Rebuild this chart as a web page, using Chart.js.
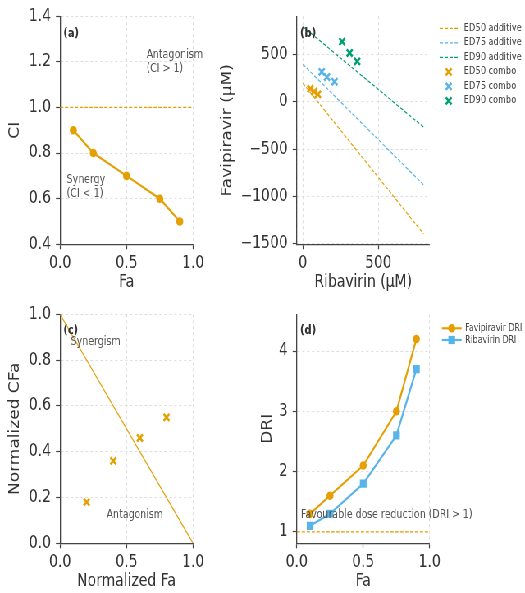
<!DOCTYPE html>
<html>
<head>
<meta charset="utf-8">
<script src="https://cdn.jsdelivr.net/npm/chart.js@4.4.1/dist/chart.umd.min.js"></script>
<style>
  html, body { margin: 0; padding: 0; background: #fff; overflow: hidden; }
  /* the figure is drawn wide and squeezed sideways, like the reference */
  #stage { position: absolute; left: 0; top: 0; width: 640px; height: 593px;
           transform: scaleX(0.8203); transform-origin: 0 0; }
  #stage canvas { position: absolute; left: 0; top: 0; }
</style>
</head>
<body>
<div id="stage">
  <canvas id="chartA" width="640" height="593"></canvas>
  <canvas id="chartB" width="640" height="593"></canvas>
  <canvas id="chartC" width="640" height="593"></canvas>
  <canvas id="chartD" width="640" height="593"></canvas>
</div>
<script>
// (a) combination index
const faPoints = [0.1, 0.25, 0.5, 0.75, 0.9];
const ciValues = [0.9, 0.8, 0.7, 0.6, 0.5];
const ciRefX = [0, 1];
const ciRefY = [1, 1];

// (b) isobologram
const additiveRib = [0, 800];
const ed50Additive = [200, -1400];
const ed75Additive = [400, -880];
const ed90Additive = [800, -267];
const ed50ComboRib = [50, 75, 100];
const ed50ComboFav = [140, 110, 80];
const ed75ComboRib = [125, 160, 210];
const ed75ComboFav = [320, 265, 215];
const ed90ComboRib = [260, 310, 360];
const ed90ComboFav = [640, 520, 430];

// (c) normalized isobologram
const normLineX = [0, 1];
const normLineY = [1, 0];
const normFa = [0.2, 0.4, 0.6, 0.8];
const normCFa = [0.18, 0.36, 0.46, 0.55];

// (d) dose reduction index
const driFa = [0.1, 0.25, 0.5, 0.75, 0.9];
const favDRI = [1.3, 1.6, 2.1, 3.0, 4.2];
const ribDRI = [1.1, 1.3, 1.8, 2.6, 3.7];
const driRefX = [0, 1];
const driRefY = [1, 1];

// tick labels
const unitTicks = [0, 0.5, 1];
const ciTicks = [0.4, 0.6, 0.8, 1.0, 1.2, 1.4];
const ribTicks = [0, 500];
const favTicks = [-1500, -1000, -500, 0, 500];
const normTicks = [0, 0.2, 0.4, 0.6, 0.8, 1.0];
const driTicks = [1, 2, 3, 4];

const FONT = "'DejaVu Sans', sans-serif";
const ORANGE = "#E69F00", BLUE = "#56B4E9", GREEN = "#009E73";
const W = 640, H = 593, XH = 48;
const COLS = [[73.2, 235.4], [361.8, 523.8]];
const ROWS = [[14.7, 244.3], [314.3, 543.3]];

const pts = (xs, ys) => xs.map((x, i) => ({x: x, y: ys[i]}));
const fix1 = v => v.toFixed(1);
const intFmt = v => (v < 0 ? "\u2212" + Math.abs(v) : String(v));

function axis(o) {
  const left = o.pos === "left";
  return {
    type: "linear", position: o.pos, min: o.min, max: o.max,
    afterBuildTicks: s => { s.ticks = o.ticks.map(v => ({value: v})); },
    afterFit: s => { if (left) s.width = o.size; else s.height = o.size; },
    ticks: { font: {family: FONT, size: 17}, color: "#333", padding: left ? 6 : 4,
             maxRotation: 0, autoSkip: false, callback: o.fmt },
    grid: { color: "#d6d6d6", lineWidth: 0.8, drawTicks: true, tickLength: 5,
            tickColor: "#444", tickWidth: 1.2 },
    border: { display: true, color: "#444", width: 1.3, dash: [3, 3] },
    title: { display: true, text: o.title, font: {family: FONT, size: 17}, color: "#333",
             padding: left ? {top: o.tpad, bottom: 0} : {top: 0, bottom: o.tpad} }
  };
}

function marker(ctx, style, x, y, r, color, bw) {
  ctx.setLineDash([]);
  ctx.fillStyle = color;
  ctx.strokeStyle = color;
  ctx.beginPath();
  if (style === "crossRot") {
    const d = r * Math.SQRT1_2;
    ctx.lineWidth = bw;
    ctx.moveTo(x - d, y - d); ctx.lineTo(x + d, y + d);
    ctx.moveTo(x - d, y + d); ctx.lineTo(x + d, y - d);
    ctx.stroke();
  } else if (style === "rect") {
    const d = r * Math.SQRT1_2;
    ctx.fillRect(x - d, y - d, 2 * d, 2 * d);
  } else {
    ctx.arc(x, y, r, 0, Math.PI * 2);
    ctx.fill();
  }
}

// legend drawn next to the plot
const keyPlugin = {
  id: "key",
  afterDraw(chart, args, o) {
    if (!o.x) return;
    const ctx = chart.ctx;
    let row = 0;
    chart.data.datasets.forEach(ds => {
      if (!ds.label) return;
      const y = o.y + row * o.step;
      row++;
      ctx.save();
      if (ds.showLine !== false) {
        ctx.strokeStyle = ds.borderColor;
        ctx.lineWidth = ds.borderWidth;
        ctx.setLineDash(ds.borderDash || []);
        ctx.beginPath(); ctx.moveTo(o.x, y); ctx.lineTo(o.x + o.len, y); ctx.stroke();
      }
      if (ds.pointRadius > 0) marker(ctx, ds.pointStyle, o.x + o.len / 2, y, ds.pointRadius, ds.borderColor, ds.pointBorderWidth);
      ctx.fillStyle = "#444";
      ctx.font = o.size + "px " + FONT;
      ctx.textAlign = "left"; ctx.textBaseline = "middle";
      ctx.fillText(ds.label, o.tx, y);
      ctx.restore();
    });
  }
};

// text notes, in data units or axes fractions
const notesPlugin = {
  id: "notes",
  afterDraw(chart, args, o) {
    const {ctx, chartArea: a, scales} = chart;
    (o.items || []).forEach(n => {
      let px, py;
      if (n.frac) {
        px = a.left + n.x * (a.right - a.left);
        py = a.bottom - n.y * (a.bottom - a.top);
      } else {
        px = scales.x.getPixelForValue(n.x);
        py = scales.y.getPixelForValue(n.y);
      }
      ctx.save();
      ctx.font = (n.bold ? "bold " : "") + n.size + "px " + FONT;
      ctx.fillStyle = n.color || "#555";
      ctx.textAlign = "left"; ctx.textBaseline = "middle";
      const lines = n.text.split("\n");
      lines.forEach((t, i) => ctx.fillText(t, px, py + (i - (lines.length - 1) / 2) * n.size * 1.2));
      ctx.restore();
    });
  }
};

function makeChart(id, col, row, yWidth, datasets, xAxis, yAxis, plugins) {
  const [l, r] = COLS[col], [t, b] = ROWS[row];
  return new Chart(document.getElementById(id), {
    type: "line",
    data: { datasets: datasets },
    options: {
      responsive: false, animation: false, events: [],
      layout: { padding: { left: l - yWidth, right: W - r, top: t, bottom: H - b - XH } },
      scales: { x: axis(Object.assign({pos: "bottom", size: XH, tpad: 0}, xAxis)),
                y: axis(Object.assign({pos: "left", size: yWidth}, yAxis)) },
      plugins: Object.assign({ legend: {display: false}, tooltip: {enabled: false} }, plugins)
    },
    plugins: [keyPlugin, notesPlugin]
  });
}

function dashed(label, xs, ys, color) {
  return { label: label, data: pts(xs, ys), borderColor: color, borderWidth: 1.2,
           borderDash: [4, 2], pointRadius: 0, tension: 0 };
}
function crosses(label, xs, ys, color) {
  return { label: label, data: pts(xs, ys), showLine: false, pointStyle: "crossRot",
           pointRadius: 5, pointBorderWidth: 2.5, borderColor: color, backgroundColor: color };
}

// (a)
makeChart("chartA", 0, 0, 70, [
  { data: pts(ciRefX, ciRefY), borderColor: ORANGE, borderWidth: 1.2, borderDash: [4, 2], pointRadius: 0 },
  { data: pts(faPoints, ciValues), borderColor: ORANGE, pointBackgroundColor: ORANGE, borderWidth: 2.2,
    pointRadius: 4.3, pointBorderWidth: 0, pointStyle: "circle", tension: 0 }
], { min: 0, max: 1, ticks: unitTicks, fmt: fix1, title: "Fa" },
   { min: 0.4, max: 1.4, ticks: ciTicks, fmt: fix1, title: "CI", tpad: 5.3 },
{ notes: { items: [
  { text: "(a)", x: 0.025, y: 0.923, frac: true, bold: true, size: 12, color: "#333" },
  { text: "Antagonism\n(CI > 1)", x: 0.65, y: 1.2, size: 11.5 },
  { text: "Synergy\n(CI < 1)", x: 0.05, y: 0.65, size: 11.5 }
] } });

// (b)
makeChart("chartB", 1, 0, 95, [
  dashed("ED50 additive", additiveRib, ed50Additive, ORANGE),
  dashed("ED75 additive", additiveRib, ed75Additive, BLUE),
  dashed("ED90 additive", additiveRib, ed90Additive, GREEN),
  crosses("ED50 combo", ed50ComboRib, ed50ComboFav, ORANGE),
  crosses("ED75 combo", ed75ComboRib, ed75ComboFav, BLUE),
  crosses("ED90 combo", ed90ComboRib, ed90ComboFav, GREEN)
], { min: -40, max: 840, ticks: ribTicks, fmt: intFmt, title: "Ribavirin (\u00b5M)" },
   { min: -1510, max: 910, ticks: favTicks, fmt: intFmt, title: "Favipiravir (\u00b5M)", tpad: 0.5 },
{ key: { x: 536, len: 22, tx: 565.5, y: 28.3, step: 14.5, size: 10 },
  notes: { items: [ { text: "(b)", x: 0.025, y: 0.923, frac: true, bold: true, size: 12, color: "#333" } ] } });

// (c)
makeChart("chartC", 0, 1, 70, [
  { data: pts(normLineX, normLineY), borderColor: ORANGE, borderWidth: 1.2, pointRadius: 0, tension: 0 },
  crosses("", normFa, normCFa, ORANGE)
], { min: 0, max: 1, ticks: unitTicks, fmt: fix1, title: "Normalized Fa" },
   { min: 0, max: 1, ticks: normTicks, fmt: fix1, title: "Normalized CFa", tpad: 5.5 },
{ notes: { items: [
  { text: "(c)", x: 0.025, y: 0.927, frac: true, bold: true, size: 12, color: "#333" },
  { text: "Synergism", x: 0.08, y: 0.877, size: 11.5 },
  { text: "Antagonism", x: 0.35, y: 0.125, size: 11.5 }
] } });

// (d)
makeChart("chartD", 1, 1, 50, [
  { label: "Favipiravir DRI", data: pts(driFa, favDRI), borderColor: ORANGE, pointBackgroundColor: ORANGE,
    borderWidth: 2.2, pointRadius: 4.3, pointBorderWidth: 0, pointStyle: "circle", tension: 0 },
  { label: "Ribavirin DRI", data: pts(driFa, ribDRI), borderColor: BLUE, pointBackgroundColor: BLUE,
    borderWidth: 2.2, pointRadius: 5.8, pointBorderWidth: 0, pointStyle: "rect", tension: 0 },
  { data: pts(driRefX, driRefY), borderColor: ORANGE, borderWidth: 1.2, borderDash: [4, 2], pointRadius: 0 }
], { min: 0, max: 1, ticks: unitTicks, fmt: fix1, title: "Fa" },
   { min: 0.81, max: 4.61, ticks: driTicks, fmt: intFmt, title: "DRI", tpad: 4.2 },
{ key: { x: 538.7, len: 24, tx: 567, y: 328.3, step: 11.7, size: 9.6 },
  notes: { items: [
  { text: "(d)", x: 0.025, y: 0.927, frac: true, bold: true, size: 12, color: "#333" },
  { text: "Favourable dose reduction (DRI > 1)", x: 0.03, y: 1.28, size: 11.5 }
] } });
</script>
</body>
</html>
